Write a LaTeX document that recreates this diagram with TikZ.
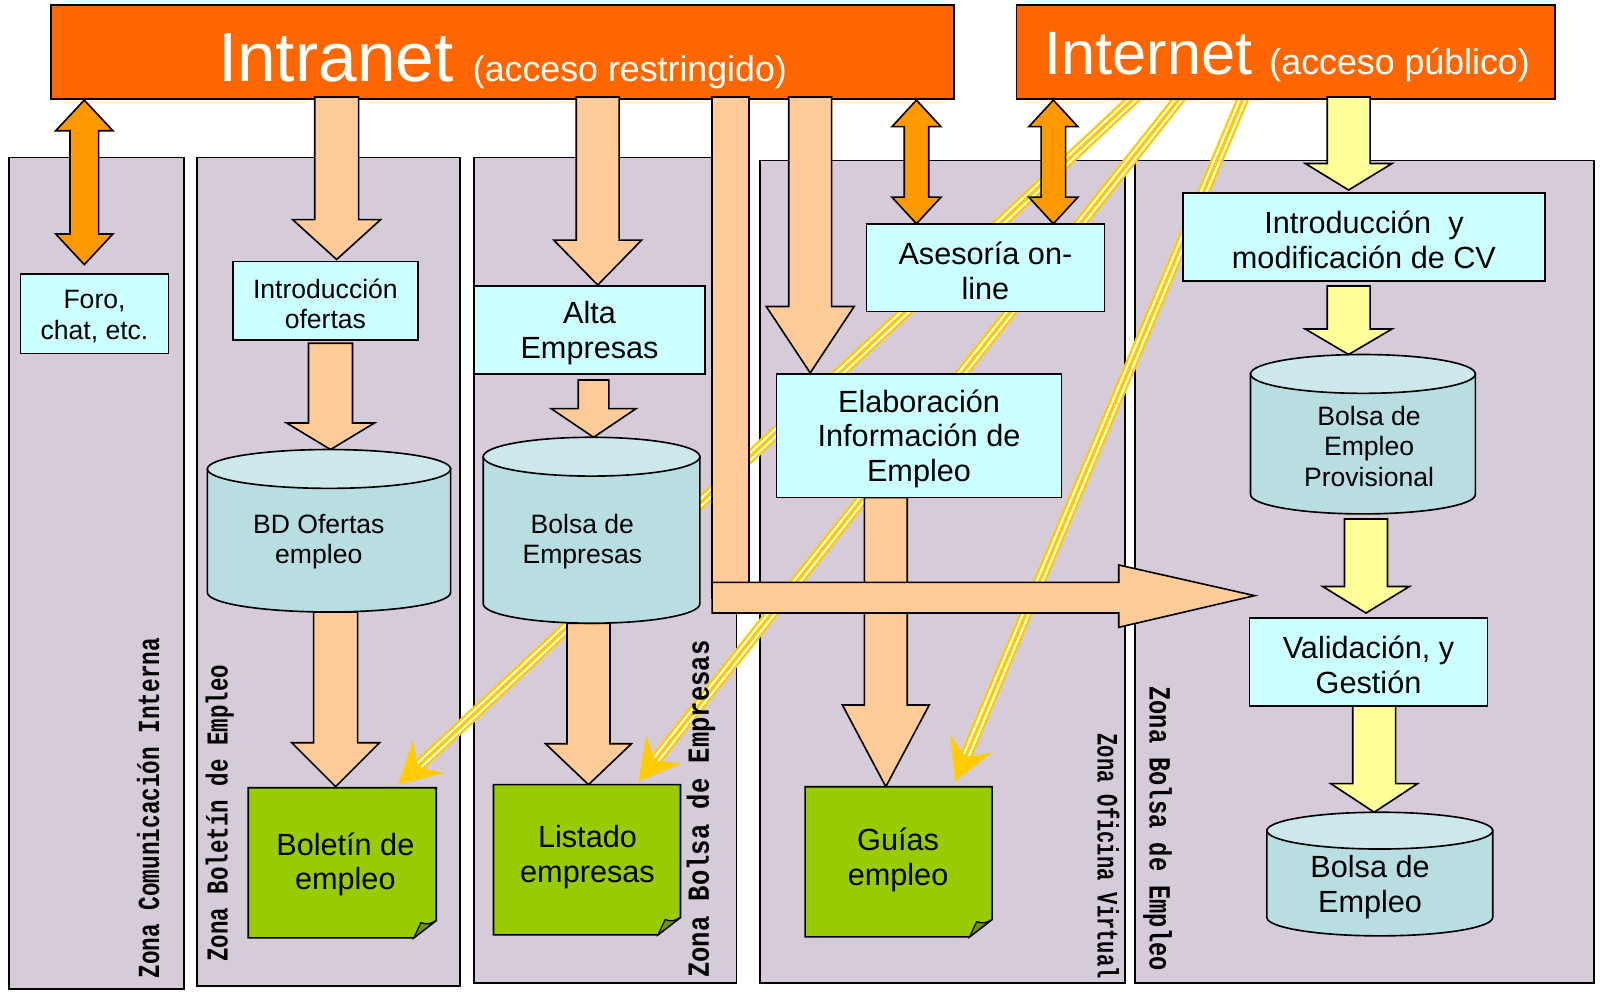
\documentclass[tikz,border=0pt]{standalone}
\usepackage{fontspec}
\usepackage{graphicx}
\setmainfont{Liberation Sans}
\newfontfamily\zonefont{Liberation Mono}
\usetikzlibrary{arrows.meta}
\definecolor{zonebg}{RGB}{214,203,216}
\definecolor{titleor}{RGB}{255,102,0}
\definecolor{peachc}{RGB}{255,204,153}
\definecolor{orarrow}{RGB}{255,153,0}
\definecolor{ylblock}{RGB}{255,255,153}
\definecolor{cyanbox}{RGB}{204,255,255}
\definecolor{cylsidec}{RGB}{185,222,226}
\definecolor{cyltopc}{RGB}{204,232,235}
\definecolor{docgreen}{RGB}{153,204,0}
\definecolor{folddark}{RGB}{110,150,0}
\definecolor{ylw}{RGB}{255,204,0}
\tikzset{
 zone/.style={draw=black, fill=zonebg, line width=0.8pt},
 titlebox/.style={draw=black, fill=titleor, line width=0.8pt, inner sep=0pt},
 titletext/.style={text=white, inner sep=0pt, anchor=base west},
 boxshape/.style={draw=black, fill=cyanbox, line width=0.8pt, inner sep=0pt},
 peachar/.style={draw=black, fill=peachc, line width=0.8pt, line join=miter},
 yelar/.style={draw=black, fill=ylblock, line width=0.8pt, line join=miter},
 orar/.style={draw=black, fill=orarrow, line width=0.8pt, line join=miter},
 cylside/.style={draw=black, fill=cylsidec, line width=0.8pt},
 cyltop/.style={draw=black, fill=cyltopc, line width=0.8pt},
 docst/.style={draw=black, fill=docgreen, line width=0.8pt, line join=miter},
 foldst/.style={draw=black, fill=folddark, line width=0.6pt},
 bigtxt/.style={align=center, inner sep=0pt, font=\fontsize{15}{17}\selectfont},
 smalltxt/.style={align=center, inner sep=0pt, font=\fontsize{13}{15}\selectfont},
 zonelbl/.style={inner sep=0pt},
 ylout/.style={line width=6pt, draw=ylw, shorten >=14pt},
 ylgap/.style={line width=3.6pt, draw=white, shorten >=14pt},
 ylin/.style={line width=1.6pt, draw=ylw, -{Stealth[length=20pt,width=22pt,inset=7pt]}},
}
% block arrow pointing down: cx, ytop, ybase, ytip, halfshaft, halfhead, style
\newcommand{\bkdown}[7]{\filldraw[#7] (#1-#5,#2) -- (#1+#5,#2) -- (#1+#5,#3) -- (#1+#6,#3) -- (#1,#4) -- (#1-#6,#3) -- (#1-#5,#3) -- cycle;}
% double vertical arrow: cx, ytop, ybot, headlen, halfshaft, halfhead
\newcommand{\bkdouble}[6]{\filldraw[orar] (#1,#2) -- (#1+#6,#2+#4) -- (#1+#5,#2+#4) -- (#1+#5,#3-#4) -- (#1+#6,#3-#4) -- (#1,#3) -- (#1-#6,#3-#4) -- (#1-#5,#3-#4) -- (#1-#5,#2+#4) -- (#1-#6,#2+#4) -- cycle;}
% text box: name, cx, cy, width, height, text style, text
\newcommand{\tbox}[7]{%
 \node[boxshape, minimum width=#4, minimum height=#5] (#1) at (#2,#3) {};
 \node[#6] (#1txt) at ([yshift=-1.5pt]#1.center) {#7};
}
% cylinder: x1, x2, ytop, ybot, ry
\newcommand{\cylshape}[5]{%
 \pgfmathsetmacro{\cylcx}{(#1+#2)/2}%
 \pgfmathsetmacro{\cylrx}{(#2-#1)/2}%
 \filldraw[cylside] (#1,#3+#5) -- (#1,#4-#5) .. controls (#1,#4-#5+0.5523*#5) and (\cylcx-0.5523*\cylrx,#4) .. (\cylcx,#4) .. controls (\cylcx+0.5523*\cylrx,#4) and (#2,#4-#5+0.5523*#5) .. (#2,#4-#5) -- (#2,#3+#5) -- cycle;
 \filldraw[cyltop] (\cylcx,#3+#5) ellipse[x radius=\cylrx*0.5pt, y radius=#5*0.5pt];
}
% document: x1, y1, x2, y2
\newcommand{\docshape}[4]{%
 \filldraw[docst] (#1,#2) -- (#3,#2) -- (#3,#4-17) -- (#3-22,#4) -- (#1,#4) -- cycle;
 \filldraw[foldst] (#3,#4-17) -- (#3-22,#4) .. controls (#3-19,#4-8) .. (#3-15,#4-15) .. controls (#3-8,#4-13) .. cycle;
}
\begin{document}
\begin{tikzpicture}[x=0.5pt, y=-0.5pt]
\useasboundingbox (0,0) rectangle (1568,972);
\fill[white] (0,0) rectangle (1568,972);

% zones
\filldraw[zone] (9,154) rectangle (180,968);
\filldraw[zone] (193,154) rectangle (450,965);
\filldraw[zone] (464,154) rectangle (721,962);
\filldraw[zone] (744,157) rectangle (1101,962);
\filldraw[zone] (1111,157) rectangle (1560,962);

% yellow triple arrows (behind boxes)
\coordinate (ya0) at (1112.3,94);
\coordinate (ya1) at (390,768);
\coordinate (yb0) at (1156.2,94);
\coordinate (yb1) at (625,765);
\coordinate (yc0) at (1217.7,94);
\coordinate (yc1) at (935,765);
\foreach \s/\e in {ya0/ya1, yb0/yb1, yc0/yc1}{
 \draw[ylout] (\s) -- (\e);
 \draw[ylgap] (\s) -- (\e);
 \draw[ylin] (\s) -- (\e);
}

% title boxes
\node[titlebox, minimum width=442pt, minimum height=46pt] (intranet) at (492,51) {};
\node[titletext] (intranettxt) at (213,80) {{\fontsize{34}{40}\selectfont Intranet }{\fontsize{17.5}{20}\selectfont (acceso restringido)}};
\node[titlebox, minimum width=263.5pt, minimum height=46pt] (internet) at (1258.5,51) {};
\node[titletext] (internettxt) at (1022,73) {{\fontsize{30}{36}\selectfont Internet }{\fontsize{17.5}{20}\selectfont (acceso público)}};

% orange double arrows
\bkdouble{82.5}{98}{259}{30}{14}{28}
\bkdouble{897}{98}{219}{26}{12}{24}
\bkdouble{1031}{98}{219}{26}{12}{24}

% peach block arrows
\bkdown{329.5}{95}{215}{254}{21.5}{43}{peachar}
\bkdown{323.5}{336}{414}{440}{21.5}{43}{peachar}
\bkdown{328.5}{599}{727}{770}{21.5}{43}{peachar}
\bkdown{585}{95}{235}{279}{21}{43}{peachar}
\bkdown{581}{372}{400}{428}{15}{41.5}{peachar}
\bkdown{576}{610}{728}{768}{21}{42}{peachar}
\bkdown{793}{95}{300}{365}{21}{43}{peachar}
\bkdown{867}{487}{690}{770}{21}{42.5}{peachar}
% L-shaped arrow
\filldraw[peachar] (697,95) rectangle (733,585);
\filldraw[peachar] (697,570) -- (1095,570) -- (1095,553) -- (1228,583) -- (1095,614) -- (1095,600) -- (697,600) -- cycle;

% yellow block arrows
\bkdown{1320}{95}{160}{186}{21}{42.5}{yelar}
\bkdown{1320}{280}{322}{347}{21}{42.5}{yelar}
\bkdown{1337}{508}{574}{600}{21}{42.5}{yelar}
\bkdown{1345}{691}{767}{795}{21}{42.5}{yelar}

% boxes
\tbox{foro}{92.5}{307}{72.5pt}{39pt}{smalltxt}{Foro,\\chat, etc.}
\tbox{introof}{318.5}{294.5}{90.5pt}{38.5pt}{smalltxt}{Introducción\\ofertas}
\tbox{alta}{577}{323}{113pt}{43pt}{bigtxt}{Alta\\Empresas}
\tbox{asesoria}{964.5}{262}{116.5pt}{43pt}{bigtxt}{Asesoría on-\\line}
\tbox{elab}{899.5}{426.5}{139.5pt}{60.5pt}{bigtxt}{Elaboración\\Información de\\Empleo}
\tbox{introcv}{1335}{232}{177pt}{43pt}{bigtxt}{Introducción\ \ y\\modificación de CV}
\tbox{valid}{1339.5}{648}{116.5pt}{43pt}{bigtxt}{Validación, y\\Gestión}

% cylinders
\cylshape{203}{441}{440}{599}{19}
\node[smalltxt] (bdofertas) at (312,530) {BD Ofertas\\empleo};
\cylshape{473}{685}{428}{610}{19}
\node[smalltxt] (bolsaempresas) at (570,530) {Bolsa de\\Empresas};
\cylshape{1224}{1444}{347}{503}{19}
\node[smalltxt] (bolsaprov) at (1340,437) {Bolsa de\\Empleo\\Provisional};
\cylshape{1240}{1461}{795}{916}{18}
\node[bigtxt] (bolsaempleo) at (1341,868) {Bolsa de\\Empleo};

% documents
\docshape{243}{771}{427}{918}
\node[bigtxt] (boletin) at (338,846) {Boletín de\\empleo};
\docshape{483}{768}{666}{915}
\node[bigtxt] (listado) at (575,839) {Listado\\empresas};
\docshape{788}{770}{971}{917}
\node[bigtxt] (guias) at (879,842) {Guías\\empleo};

% zone labels
\node[zonelbl, rotate=90, font=\zonefont\bfseries\fontsize{11.1}{12}\selectfont] (z1lbl) at (145,791) {\scalebox{1}[1.35]{Zona Comunicación Interna}};
\node[zonelbl, rotate=90, font=\zonefont\bfseries\fontsize{11}{12}\selectfont] (z2lbl) at (215,796) {\scalebox{1}[1.35]{Zona Boletín de Empleo}};
\node[zonelbl, rotate=90, font=\zonefont\bfseries\fontsize{12.5}{13}\selectfont] (z3lbl) at (686,792) {\scalebox{1}[1.2]{Zona Bolsa de Empresas}};
\node[zonelbl, rotate=-90, font=\zonefont\bfseries\fontsize{10}{11}\selectfont] (z4lbl) at (1085,838) {\scalebox{1}[1.45]{Zona Oficina Virtual}};
\node[zonelbl, rotate=-90, font=\zonefont\bfseries\fontsize{11.6}{12}\selectfont] (z5lbl) at (1133,811) {\scalebox{1}[1.3]{Zona Bolsa de Empleo}};
\end{tikzpicture}
\end{document}
